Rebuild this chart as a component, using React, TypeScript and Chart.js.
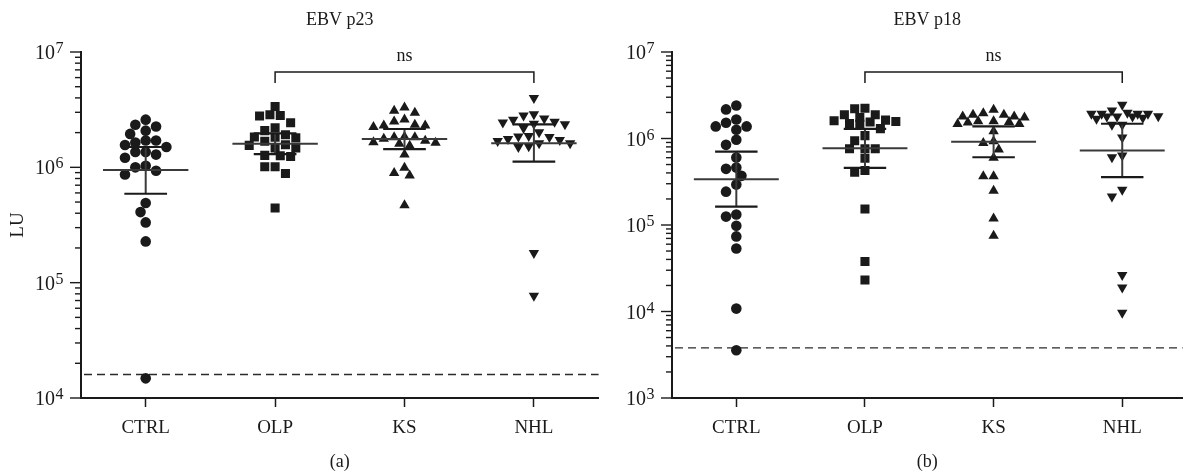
import React, { useEffect, useRef } from "react";
import { Chart, registerables } from "chart.js";

Chart.register(...registerables);

// ---------- data ----------
const categories = ["CTRL", "OLP", "KS", "NHL"];
const panelTitles = ["EBV p23", "EBV p18"];
const panelLetters = ["(a)", "(b)"];
const yAxisTitle = "LU";
const sigLabel = "ns";
const sigPair = [1, 3];

// Panel (a) EBV p23
const p23Ctrl = [2.59e6, 2.34e6, 2.26e6, 2.08e6, 1.95e6, 1.71e6, 1.64e6, 1.5e6, 1.56e6, 1.71e6, 1.36e6, 1.29e6, 1.36e6, 1.21e6, 1.0e6, 8.67e5, 9.33e5, 1.03e6, 4.9e5, 4.09e5, 3.33e5, 2.28e5, 1.48e4];
const p23Olp = [3.37e6, 2.86e6, 2.79e6, 2.82e6, 2.44e6, 2.2e6, 2.08e6, 1.83e6, 1.8e6, 1.92e6, 1.82e6, 1.68e6, 1.57e6, 1.55e6, 1.47e6, 1.47e6, 1.27e6, 1.24e6, 1.26e6, 1.01e6, 1.01e6, 8.85e5, 4.44e5];
const p23Ks = [3.31e6, 3.1e6, 2.98e6, 2.6e6, 2.5e6, 2.34e6, 2.31e6, 2.31e6, 2.24e6, 1.84e6, 1.82e6, 1.82e6, 1.77e6, 1.7e6, 1.65e6, 1.63e6, 1.6e6, 1.54e6, 1.29e6, 9.93e5, 8.94e5, 8.51e5, 4.68e5];
const p23Nhl = [3.99e6, 2.88e6, 2.81e6, 2.65e6, 2.59e6, 2.48e6, 2.45e6, 2.39e6, 2.36e6, 2.19e6, 2.01e6, 1.87e6, 1.85e6, 1.83e6, 1.76e6, 1.73e6, 1.69e6, 1.62e6, 1.62e6, 1.52e6, 1.5e6, 1.81e5, 7.7e4];
const p23Center = [9.5e5, 1.6e6, 1.76e6, 1.62e6];
const p23Lower = [5.9e5, 1.3e6, 1.44e6, 1.12e6];
const p23Upper = [1.5e6, 1.97e6, 2.15e6, 2.36e6];
const p23Cutoff = 1.6e4;
const p23Exponents = [4, 5, 6, 7];

// Panel (b) EBV p18
const p18Ctrl = [2.41e6, 2.17e6, 1.66e6, 1.52e6, 1.38e6, 1.38e6, 1.26e6, 9.67e5, 8.45e5, 6.03e5, 4.61e5, 4.46e5, 3.7e5, 2.93e5, 2.43e5, 1.32e5, 1.25e5, 9.8e4, 7.38e4, 5.35e4, 1.08e4, 3.56e3];
const p18Olp = [2.21e6, 2.24e6, 1.88e6, 1.75e6, 1.88e6, 1.63e6, 1.57e6, 1.55e6, 1.47e6, 1.49e6, 1.6e6, 1.3e6, 1.08e6, 9.4e5, 7.6e5, 7.6e5, 7.6e5, 5.9e5, 4.26e5, 4.07e5, 1.53e5, 3.78e4, 2.31e4];
const p18Ks = [2.15e6, 1.96e6, 1.88e6, 1.88e6, 1.8e6, 1.8e6, 1.75e6, 1.58e6, 1.58e6, 1.55e6, 1.53e6, 1.47e6, 1.47e6, 1.21e6, 9.3e5, 8.9e5, 7.46e5, 5.98e5, 3.66e5, 3.66e5, 2.49e5, 1.19e5, 7.5e4];
const p18Nhl = [2.46e6, 2.11e6, 1.99e6, 1.93e6, 1.93e6, 1.93e6, 1.93e6, 1.81e6, 1.8e6, 1.8e6, 1.8e6, 1.74e6, 1.69e6, 1.44e6, 1.44e6, 1.03e6, 6.35e5, 6.07e5, 2.56e5, 2.14e5, 2.64e4, 1.89e4, 9.7e3];
const p18Center = [3.37e5, 7.7e5, 9.2e5, 7.26e5];
const p18Lower = [1.63e5, 4.57e5, 6.07e5, 3.57e5];
const p18Upper = [7.06e5, 1.29e6, 1.38e6, 1.48e6];
const p18Cutoff = 3.8e3;
const p18Exponents = [3, 4, 5, 6, 7];

// ---------- styling / layout constants ----------
const SERIF = '"Liberation Serif", "DejaVu Serif", "Times New Roman", serif';
const INK = "#1a1a1a";
const PLOT_TOP = 52;
const PLOT_H = 346;
const X_AXIS_H = 77;
const UNIT_PX = 130;
const SLOT_PX = 10.4;
const MIN_SEP_PX = 9.3;
const MAX_HALF_STEPS = 7; // half-slot steps allowed either side of the column centre

const pointStyles: any[] = ["circle", "rect", "triangle", "triangle"];
const pointRadii = [5.3, 6.4, 6, 6];
const pointRotations = [0, 0, 0, 180];

type Panel = {
  title: string;
  letter: string;
  groups: number[][];
  center: number[];
  lower: number[];
  upper: number[];
  cutoff: number;
  exps: number[];
  showYTitle: boolean;
  canvasLeft: number;
  canvasW: number;
  yAxisW: number;
  padRight: number;
  xMax: number;
};

const panels: Panel[] = [
  {
    title: panelTitles[0],
    letter: panelLetters[0],
    groups: [p23Ctrl, p23Olp, p23Ks, p23Nhl],
    center: p23Center,
    lower: p23Lower,
    upper: p23Upper,
    cutoff: p23Cutoff,
    exps: p23Exponents,
    showYTitle: true,
    canvasLeft: 0,
    canvasW: 605,
    yAxisW: 81,
    padRight: 4,
    xMax: 3.5,
  },
  {
    title: panelTitles[1],
    letter: panelLetters[1],
    groups: [p18Ctrl, p18Olp, p18Ks, p18Nhl],
    center: p18Center,
    lower: p18Lower,
    upper: p18Upper,
    cutoff: p18Cutoff,
    exps: p18Exponents,
    showYTitle: false,
    canvasLeft: 605,
    canvasW: 584,
    yAxisW: 67,
    padRight: 1,
    xMax: -0.5 + (584 - 1 - 67) / 130,
  },
];

// beeswarm: x offsets (in category units) derived from the values, width-limited
function swarm(values: number[], decadePx: number): number[] {
  const order = values.map((_, i) => i).sort((a, b) => values[b] - values[a]);
  const placed: { x: number; y: number }[] = [];
  const offsets = new Array(values.length).fill(0);
  const D2 = MIN_SEP_PX * MIN_SEP_PX;
  const cands: number[] = [0];
  for (let k = 1; k <= MAX_HALF_STEPS; k++) {
    cands.push(-k * SLOT_PX * 0.5, k * SLOT_PX * 0.5);
  }
  for (const i of order) {
    const y = Math.log10(values[i]) * decadePx;
    let best = 0;
    let bestD = -1;
    for (const x of cands) {
      let minD = Infinity;
      for (const p of placed) {
        const d = (p.x - x) ** 2 + (p.y - y) ** 2;
        if (d < minD) minD = d;
      }
      if (minD >= D2) {
        best = x;
        break;
      }
      if (minD > bestD + 1e-6) {
        bestD = minD;
        best = x;
      }
    }
    placed.push({ x: best, y });
    offsets[i] = best / UNIT_PX;
  }
  return offsets;
}

function makeOverlay(p: Panel) {
  const line = (ctx: CanvasRenderingContext2D, x1: number, y1: number, x2: number, y2: number) => {
    ctx.beginPath();
    ctx.moveTo(x1, y1);
    ctx.lineTo(x2, y2);
    ctx.stroke();
  };
  return {
    id: "overlay",
    beforeDatasetsDraw(chart: any) {
      const { ctx, chartArea: a, scales } = chart;
      const y = scales.y.getPixelForValue(p.cutoff);
      ctx.save();
      ctx.strokeStyle = "#2a2a2a";
      ctx.lineWidth = 1.4;
      ctx.setLineDash([8, 5]);
      line(ctx, a.left + 3, y, a.right, y);
      ctx.restore();
    },
    afterDatasetsDraw(chart: any) {
      const { ctx, scales } = chart;
      const xs = scales.x;
      const ys = scales.y;
      ctx.save();
      p.center.forEach((m, i) => {
        const cx = xs.getPixelForValue(i);
        const ym = ys.getPixelForValue(m);
        const yl = ys.getPixelForValue(p.lower[i]);
        const yu = ys.getPixelForValue(p.upper[i]);
        ctx.strokeStyle = "#3a3a3a";
        ctx.lineWidth = 2;
        line(ctx, xs.getPixelForValue(i - 0.33), ym, xs.getPixelForValue(i + 0.33), ym);
        line(ctx, cx, yu, cx, yl);
        ctx.strokeStyle = INK;
        ctx.lineWidth = 2.2;
        line(ctx, xs.getPixelForValue(i - 0.165), yu, xs.getPixelForValue(i + 0.165), yu);
        line(ctx, xs.getPixelForValue(i - 0.165), yl, xs.getPixelForValue(i + 0.165), yl);
      });
      ctx.restore();
    },
    afterDraw(chart: any) {
      const { ctx, chartArea: a, scales } = chart;
      const xs = scales.x;
      const ys = scales.y;
      ctx.save();
      // y ticks
      ctx.strokeStyle = INK;
      ctx.lineWidth = 1.4;
      const eMin = p.exps[0];
      const eMax = p.exps[p.exps.length - 1];
      for (let e = eMin; e <= eMax; e++) {
        for (let m = 1; m <= 9; m++) {
          if (e === eMax && m > 1) break;
          const yy = ys.getPixelForValue(m * Math.pow(10, e));
          const len = m === 1 ? 10 : 5;
          line(ctx, a.left - 1, yy, a.left - 1 - len, yy);
        }
      }
      // y tick labels 10^n
      ctx.fillStyle = INK;
      ctx.textAlign = "left";
      ctx.textBaseline = "alphabetic";
      p.exps.forEach((e) => {
        const yy = ys.getPixelForValue(Math.pow(10, e));
        ctx.font = `20px ${SERIF}`;
        const w1 = ctx.measureText("10").width;
        ctx.font = `16px ${SERIF}`;
        const sup = String(e);
        const w2 = ctx.measureText(sup).width;
        const right = a.left - 18;
        const x0 = right - w1 - w2;
        ctx.font = `20px ${SERIF}`;
        ctx.fillText("10", x0, yy + 7);
        ctx.font = `16px ${SERIF}`;
        ctx.fillText(sup, x0 + w1 + 0.5, yy + 1);
      });
      // title
      const midX = (a.left + a.right) / 2;
      ctx.textAlign = "center";
      ctx.textBaseline = "middle";
      ctx.font = `18px ${SERIF}`;
      ctx.fillText(p.title, midX, 20);
      // panel letter
      ctx.fillText(p.letter, midX, 462);
      // significance bracket
      const bx1 = xs.getPixelForValue(sigPair[0]);
      const bx2 = xs.getPixelForValue(sigPair[1]);
      const by = a.top + 20;
      ctx.strokeStyle = INK;
      ctx.lineWidth = 1.5;
      ctx.beginPath();
      ctx.moveTo(bx1, by + 11);
      ctx.lineTo(bx1, by);
      ctx.lineTo(bx2, by);
      ctx.lineTo(bx2, by + 11);
      ctx.stroke();
      ctx.font = `18px ${SERIF}`;
      ctx.fillText(sigLabel, (bx1 + bx2) / 2, a.top + 4);
      // y axis title
      if (p.showYTitle) {
        ctx.save();
        ctx.translate(18, (a.top + a.bottom) / 2);
        ctx.rotate(-Math.PI / 2);
        ctx.font = `19px ${SERIF}`;
        ctx.fillText(yAxisTitle, 0, 0);
        ctx.restore();
      }
      ctx.restore();
    },
  };
}

function buildConfig(p: Panel): any {
  const yMin = Math.pow(10, p.exps[0]);
  const yMax = Math.pow(10, p.exps[p.exps.length - 1]);
  const decadePx = PLOT_H / (p.exps[p.exps.length - 1] - p.exps[0]);
  const datasets = p.groups.map((vals, gi) => {
    const offs = swarm(vals, decadePx);
    return {
      label: categories[gi],
      data: vals.map((v, k) => ({ x: gi + offs[k], y: v })),
      pointStyle: pointStyles[gi],
      pointRadius: pointRadii[gi],
      pointRotation: pointRotations[gi],
      backgroundColor: INK,
      borderColor: INK,
      borderWidth: 0,
      pointHoverRadius: pointRadii[gi],
    };
  });
  return {
    type: "scatter",
    data: { datasets },
    options: {
      animation: false,
      responsive: false,
      maintainAspectRatio: false,
      events: [],
      layout: { padding: { top: PLOT_TOP, right: p.padRight, bottom: 0, left: 0 } },
      plugins: {
        legend: { display: false },
        tooltip: { enabled: false },
        title: { display: false },
      },
      scales: {
        x: {
          type: "linear",
          position: "bottom",
          min: -0.5,
          max: p.xMax,
          afterFit: (s: any) => {
            s.height = X_AXIS_H;
          },
          afterBuildTicks: (s: any) => {
            s.ticks = categories.map((_, i) => ({ value: i }));
          },
          ticks: {
            callback: (v: any) => categories[Math.round(Number(v))] ?? "",
            font: { family: SERIF, size: 19 },
            color: INK,
            padding: 10,
            autoSkip: false,
            maxRotation: 0,
          },
          grid: {
            display: true,
            drawOnChartArea: false,
            drawTicks: true,
            tickLength: 9,
            tickWidth: 1.5,
            tickColor: INK,
          },
          border: { display: true, color: INK, width: 2 },
        },
        y: {
          type: "logarithmic",
          position: "left",
          min: yMin,
          max: yMax,
          afterFit: (s: any) => {
            s.width = p.yAxisW;
          },
          ticks: { display: false },
          grid: { display: false, drawTicks: false },
          border: { display: true, color: INK, width: 2 },
        },
      },
    },
    plugins: [makeOverlay(p)],
  };
}

function PanelChart({ panel }: { panel: Panel }) {
  const ref = useRef<HTMLCanvasElement | null>(null);
  useEffect(() => {
    if (!ref.current) return;
    const chart = new Chart(ref.current, buildConfig(panel));
    return () => chart.destroy();
  }, [panel]);
  return (
    <canvas
      ref={ref}
      width={panel.canvasW}
      height={475}
      style={{ position: "absolute", left: panel.canvasLeft, top: 0, width: panel.canvasW, height: 475 }}
    />
  );
}

export default function App() {
  return (
    <div style={{ position: "absolute", left: 0, top: 0, width: 1189, height: 475, background: "#fff", overflow: "hidden" }}>
      {panels.map((p, i) => (
        <PanelChart key={i} panel={p} />
      ))}
    </div>
  );
}
